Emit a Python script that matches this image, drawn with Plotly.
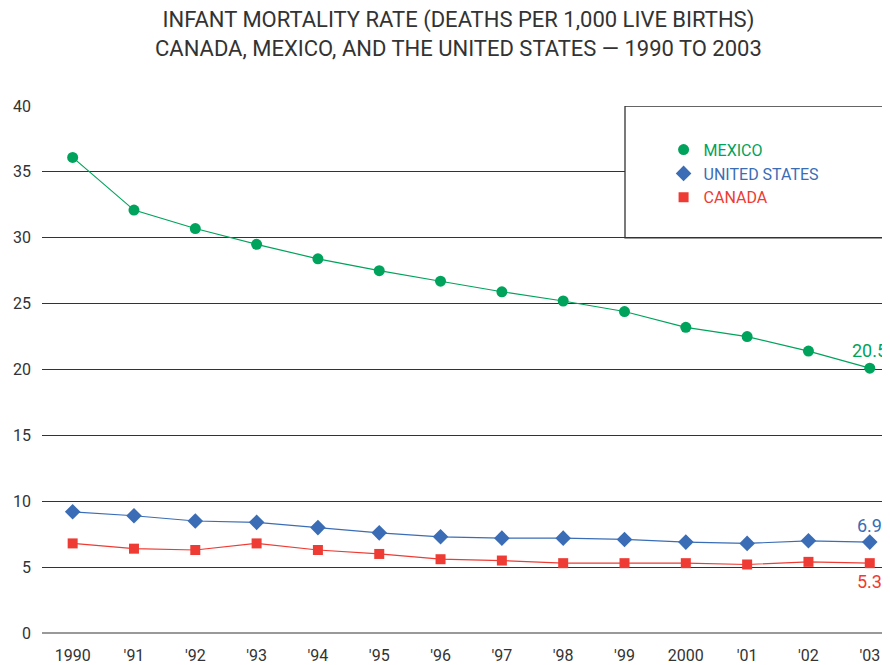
import plotly.graph_objects as go

# infant mortality, deaths per 1,000 live births
years = list(range(1990, 2004))
year_labels = ["1990", "'91", "'92", "'93", "'94", "'95", "'96", "'97", "'98", "'99",
               "2000", "'01", "'02", "'03"]
mexico = [36.1, 32.1, 30.7, 29.5, 28.4, 27.5, 26.7, 25.9, 25.2, 24.4, 23.2, 22.5, 21.4, 20.1]
united_states = [9.2, 8.9, 8.5, 8.4, 8.0, 7.6, 7.3, 7.2, 7.2, 7.1, 6.9, 6.8, 7.0, 6.9]
canada = [6.8, 6.4, 6.3, 6.8, 6.3, 6.0, 5.6, 5.5, 5.3, 5.3, 5.3, 5.2, 5.4, 5.3]
end_labels = ["20.5", "6.9", "5.3"]

FONT = "Roboto, Arial, sans-serif"
GREEN = "#00a35c"
BLUE = "#3a6db5"
RED = "#ee3b33"
INK = "#333333"

# the page body has an 8px margin, so the figure is sized to fit inside it
W, H = 882, 657
PLOT_H = H - 98 - 26

series = [
    ("MEXICO", mexico, GREEN, "circle", 11, end_labels[0], -18),
    ("UNITED STATES", united_states, BLUE, "diamond", 12, end_labels[1], -17),
    ("CANADA", canada, RED, "square", 10, end_labels[2], 18),
]

fig = go.Figure()
for name, vals, color, symbol, size, label, shift in series:
    fig.add_trace(go.Scatter(
        x=years, y=vals, mode="lines+markers", showlegend=False,
        line=dict(color=color, width=1.2),
        marker=dict(color=color, symbol=symbol, size=size),
        cliponaxis=False,
    ))
    # marker-only entry for the legend
    fig.add_trace(go.Scatter(
        x=[None], y=[None], mode="markers",
        name=f"<span style='color:{color}'>{name}</span>",
        marker=dict(color=color, symbol=symbol, size=size),
    ))
    fig.add_annotation(x=years[-1], y=vals[-1], text=label, showarrow=False,
                       yshift=-shift, xanchor="center",
                       font=dict(family=FONT, size=18, color=color))

# two-line title, placed as an annotation so both lines stay on the page
fig.add_annotation(
    xref="paper", yref="paper", x=(450 - 34) / 848, y=1 + 72.5 / PLOT_H,
    xanchor="center", yanchor="middle", showarrow=False,
    text="INFANT MORTALITY RATE (DEATHS PER 1,000 LIVE BIRTHS)<br>"
         "CANADA, MEXICO, AND THE UNITED STATES \u2014 1990 TO 2003",
    font=dict(family=FONT, size=22, color=INK),
)

# box behind the legend
fig.add_shape(type="rect", xref="paper", yref="y", x0=(617 - 34) / 848, x1=1.0,
              y0=30, y1=40, fillcolor="white", line=dict(color=INK, width=1.3),
              layer="above")

fig.update_layout(
    width=W, height=H,
    margin=dict(l=34, r=0, t=98, b=26),
    paper_bgcolor="white", plot_bgcolor="white",
    font=dict(family=FONT, color=INK, size=16),
    legend=dict(x=0.733, y=1 - 27 / PLOT_H, xanchor="left", yanchor="top",
                bgcolor="rgba(0,0,0,0)", itemwidth=30,
                font=dict(family=FONT, size=16)),
    showlegend=True,
)
fig.update_xaxes(range=[1989.5, 2003.33], tickvals=years, ticktext=year_labels,
                 showgrid=False, zeroline=False, showline=False, ticks="",
                 ticklabelstandoff=11, tickfont=dict(size=16, color=INK))
fig.update_yaxes(range=[0, 40], dtick=5, showgrid=True, gridcolor=INK, gridwidth=1.2,
                 zeroline=True, zerolinecolor="#999999", zerolinewidth=1.6,
                 showline=False, ticks="", ticklabelstandoff=10,
                 tickfont=dict(size=16, color=INK))

fig.write_html("out.html")
